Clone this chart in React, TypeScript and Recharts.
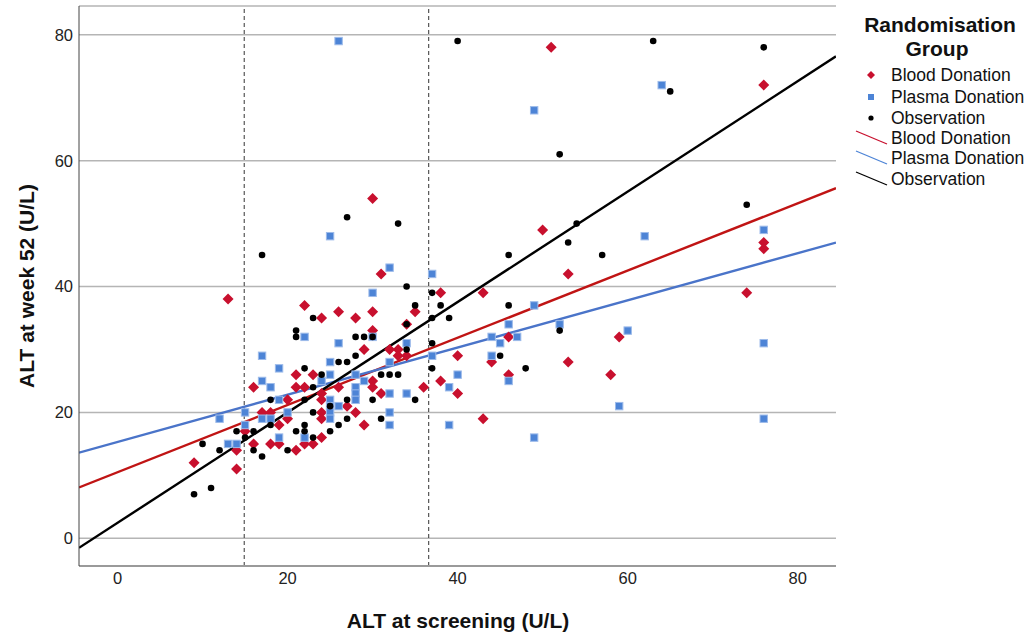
import React from "react";
import {
  ScatterChart,
  Scatter,
  XAxis,
  YAxis,
  CartesianGrid,
  ReferenceLine,
} from "recharts";

// ALT at screening (x) vs ALT at week 52 (y), per randomisation group
const bloodDonation: [number, number][] = [
  [13, 38], [30, 54], [31, 42], [38, 39], [43, 39], [74, 39], [51, 78], [76, 72],
  [50, 49], [53, 42], [76, 47], [76, 46], [46, 32], [59, 32], [40, 29], [44, 28],
  [53, 28], [46, 26], [58, 26], [38, 25], [36, 24], [40, 23], [43, 19],
  [22, 37], [24, 35], [26, 36], [28, 35], [30, 36], [35, 36], [30, 33], [29, 30],
  [32, 30], [33, 30], [33, 29], [34, 29], [21, 26], [23, 26], [30, 25], [30, 24],
  [21, 24], [22, 24], [24, 23], [31, 23], [24, 22], [27, 21], [28, 20], [24, 20],
  [24, 19], [29, 18], [24, 16], [22, 15], [23, 15], [21, 14],
  [16, 24], [17, 20], [18, 20], [20, 22], [15, 17], [14, 14], [9, 12], [14, 11],
  [19, 18], [18, 15], [19, 15], [16, 15], [34, 34], [26, 24], [20, 19],
];

const plasmaDonation: [number, number][] = [
  [26, 79], [64, 72], [49, 68], [76, 49], [62, 48], [25, 48], [32, 43], [37, 42],
  [30, 39], [49, 37], [46, 34], [52, 34], [60, 33], [44, 32], [47, 32], [45, 31],
  [76, 31], [37, 29], [44, 29], [40, 26], [46, 25], [39, 24], [59, 21], [76, 19],
  [39, 18], [49, 16],
  [22, 32], [30, 32], [26, 31], [34, 31], [25, 28], [32, 28], [25, 26], [28, 26],
  [29, 25], [24, 25], [28, 24], [28, 23], [28, 22], [32, 23], [34, 23], [25, 22],
  [25, 21], [25, 20], [25, 19], [26, 21], [32, 20], [32, 18], [22, 16],
  [17, 29], [19, 27], [17, 25], [18, 24], [12, 19], [15, 20], [17, 19], [18, 19],
  [19, 22], [13, 15], [14, 15], [19, 16], [20, 20], [15, 18],
];

const observation: [number, number][] = [
  [40, 79], [63, 79], [76, 78], [65, 71], [52, 61], [74, 53], [54, 50], [53, 47],
  [46, 45], [57, 45], [37, 39], [38, 37], [46, 37], [37, 35], [39, 35], [52, 33],
  [37, 31], [45, 29], [37, 27], [48, 27],
  [27, 51], [33, 50], [17, 45], [34, 40], [35, 37], [23, 35], [21, 33], [21, 32],
  [28, 32], [29, 32], [30, 32], [34, 34], [34, 30], [26, 28], [27, 28], [22, 27],
  [28, 29], [24, 26], [31, 26], [32, 26], [33, 26], [23, 24], [30, 22], [35, 22],
  [22, 22], [27, 22], [23, 20], [31, 19], [27, 19], [26, 18], [25, 17], [22, 18],
  [22, 17], [21, 17], [23, 16],
  [18, 22], [14, 17], [16, 17], [10, 15], [12, 14], [15, 16], [16, 14], [17, 13],
  [11, 8], [9, 7], [20, 14], [18, 18], [25, 21],
];

// fit lines: [intercept, slope]
const bloodFit = [10.5, 0.534];
const plasmaFit = [15.3, 0.375];
const observationFit = [2.46, 0.877];

const cutoffs = [14.9, 36.6];
const xTicks = [0, 20, 40, 60, 80];
const yTicks = [0, 20, 40, 60, 80];
const X_DOMAIN = [-4.53, 84.5];
const Y_DOMAIN = [-4.4, 84.57];

const RED = "#c8102e";
const BLUE = "#4d84d6";
const FONT = "'Liberation Sans', Arial, sans-serif";

const toPoints = (rows: [number, number][]) => rows.map(([x, y]) => ({ x, y }));

const fitSegment = ([a, b]: number[]) => [
  { x: X_DOMAIN[0], y: a + b * X_DOMAIN[0] },
  { x: X_DOMAIN[1], y: a + b * X_DOMAIN[1] },
];

const Diamond = ({ cx, cy }: any) => (
  <polygon
    points={`${cx},${cy - 5.5} ${cx + 5.5},${cy} ${cx},${cy + 5.5} ${cx - 5.5},${cy}`}
    fill={RED}
  />
);

const Square = ({ cx, cy }: any) => (
  <rect x={cx - 3.7} y={cy - 3.7} width={7.4} height={7.4} fill={BLUE} stroke="#9dbbea" strokeWidth={1} />
);

const Dot = ({ cx, cy }: any) => <circle cx={cx} cy={cy} r={3.3} fill="#000" />;

function Legend() {
  const rowY = [75, 97, 118, 138, 158, 179];
  const labels = ["Blood Donation", "Plasma Donation", "Observation"];
  return (
    <g fontFamily={FONT} fill="#111">
      <text x={940} y={32} textAnchor="middle" fontSize={21} fontWeight="bold">
        Randomisation
      </text>
      <text x={937} y={56} textAnchor="middle" fontSize={21} fontWeight="bold">
        Group
      </text>
      <polygon points={`871,${rowY[0] - 4} 875,${rowY[0]} 871,${rowY[0] + 4} 867,${rowY[0]}`} fill={RED} />
      <rect x={868} y={rowY[1] - 3} width={6} height={6} fill={BLUE} />
      <circle cx={871} cy={rowY[2]} r={2.6} fill="#000" />
      <line x1={856} y1={rowY[3] - 7} x2={887} y2={rowY[3] + 6} stroke={RED} strokeWidth={1.3} />
      <line x1={856} y1={rowY[4] - 7} x2={887} y2={rowY[4] + 6} stroke={BLUE} strokeWidth={1.3} />
      <line x1={856} y1={rowY[5] - 7} x2={887} y2={rowY[5] + 6} stroke="#000" strokeWidth={1.3} />
      {rowY.map((y, i) => (
        <text key={i} x={891} y={y + 6} fontSize={17.5}>
          {labels[i % 3]}
        </text>
      ))}
    </g>
  );
}

export default function App() {
  return (
    <div style={{ position: "absolute", left: 0, top: 0, width: 1030, height: 638, background: "#fff" }}>
      <ScatterChart
        width={1030}
        height={638}
        margin={{ top: 6, right: 194, bottom: 42, left: 19 }}
      >
        <CartesianGrid vertical={false} stroke="#b5b5b5" strokeWidth={1.5} />
        <XAxis
          type="number"
          dataKey="x"
          domain={X_DOMAIN}
          ticks={xTicks}
          allowDataOverflow
          height={30}
          tickLine={false}
          tickSize={4}
          tickMargin={2}
          axisLine={{ stroke: "#9a9a9a", strokeWidth: 2 }}
          tick={{ fontSize: 16.5, fill: "#222", fontFamily: FONT }}
        />
        <YAxis
          type="number"
          dataKey="y"
          domain={Y_DOMAIN}
          ticks={yTicks}
          allowDataOverflow
          width={60}
          tickLine={false}
          tickSize={4}
          tickMargin={2}
          axisLine={{ stroke: "#444", strokeWidth: 1 }}
          tick={{ fontSize: 16.5, fill: "#222", fontFamily: FONT }}
        />
        {cutoffs.map((c) => (
          <ReferenceLine key={c} x={c} stroke="#333" strokeDasharray="4 3" strokeWidth={1} />
        ))}
        <Scatter data={toPoints(bloodDonation)} shape={Diamond} isAnimationActive={false} />
        <Scatter data={toPoints(plasmaDonation)} shape={Square} isAnimationActive={false} />
        <Scatter data={toPoints(observation)} shape={Dot} isAnimationActive={false} />
        <ReferenceLine segment={fitSegment(bloodFit)} stroke="#c01414" strokeWidth={2.4} ifOverflow="hidden" />
        <ReferenceLine segment={fitSegment(plasmaFit)} stroke="#4a74c9" strokeWidth={2.4} ifOverflow="hidden" />
        <ReferenceLine segment={fitSegment(observationFit)} stroke="#000" strokeWidth={2.4} ifOverflow="hidden" />
      </ScatterChart>
      <svg
        width={1030}
        height={638}
        style={{ position: "absolute", left: 0, top: 0, pointerEvents: "none" }}
      >
        <text x={458} y={628} textAnchor="middle" fontSize={21} fontWeight="bold" fontFamily={FONT} fill="#111">
          ALT at screening (U/L)
        </text>
        <text
          transform="translate(34,286) rotate(-90)"
          textAnchor="middle"
          fontSize={21}
          fontWeight="bold"
          fontFamily={FONT}
          fill="#111"
        >
          ALT at week 52 (U/L)
        </text>
        <Legend />
      </svg>
    </div>
  );
}
